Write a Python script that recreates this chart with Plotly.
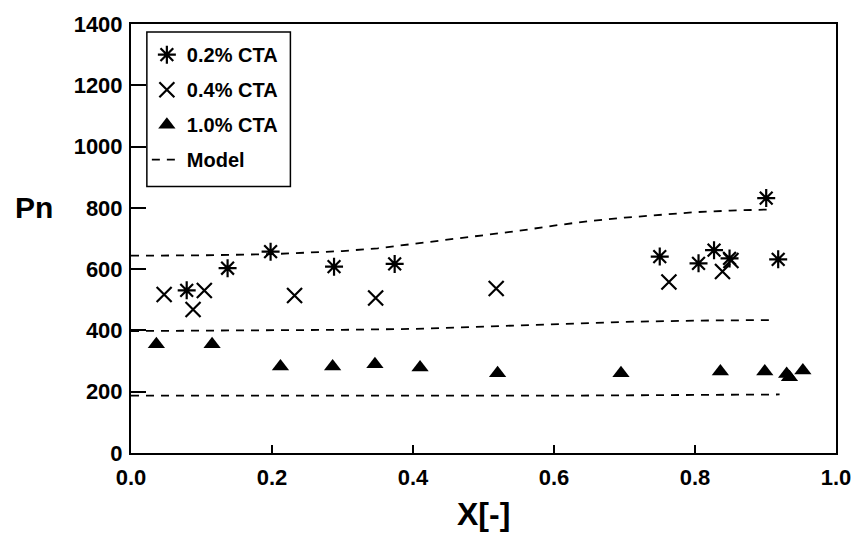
import plotly.graph_objects as go

# Measured data: Pn versus conversion X for three CTA levels
x_02 = [0.079, 0.137, 0.198, 0.288, 0.374, 0.750, 0.805, 0.827, 0.849, 0.901, 0.918]
pn_02 = [531, 603, 657, 608, 617, 641, 619, 662, 635, 832, 632]

x_04 = [0.047, 0.088, 0.104, 0.232, 0.347, 0.518, 0.763, 0.839, 0.851]
pn_04 = [517, 468, 530, 514, 506, 537, 558, 592, 628]

x_10 = [0.036, 0.115, 0.212, 0.286, 0.346, 0.410, 0.520, 0.695, 0.836, 0.899, 0.930, 0.934, 0.953]
pn_10 = [355, 355, 282, 282, 290, 279, 260, 260, 266, 266, 258, 247, 269]

# Model curves
x_model_02 = [0.0, 0.1, 0.2, 0.25, 0.3, 0.35, 0.4, 0.45, 0.5, 0.55, 0.6, 0.65, 0.7, 0.75, 0.8, 0.85, 0.91]
pn_model_02 = [644, 645, 649, 653, 659, 668, 682, 696, 710, 725, 742, 757, 768, 778, 786, 791, 795]
x_model_04 = [0.0, 0.1, 0.2, 0.3, 0.4, 0.5, 0.6, 0.7, 0.8, 0.91]
pn_model_04 = [398, 399, 400, 402, 405, 412, 420, 428, 432, 434]
x_model_10 = [0.0, 0.3, 0.6, 0.92]
pn_model_10 = [187, 186, 187, 191]

FONT = "Liberation Sans, Arial, Helvetica, sans-serif"

fig = go.Figure()

fig.add_trace(go.Scatter(
    x=x_02, y=pn_02, mode="markers", name="0.2% CTA", legendgroup="a",
    marker=dict(symbol="asterisk-open", size=15, color="black",
                line=dict(color="black", width=2.2)),
))
fig.add_trace(go.Scatter(
    x=x_04, y=pn_04, mode="markers", name="0.4% CTA", legendgroup="b",
    marker=dict(symbol="x-thin-open", size=15, color="black",
                line=dict(color="black", width=2.2)),
))
fig.add_trace(go.Scatter(
    x=x_10, y=pn_10, mode="markers", name="1.0% CTA", legendgroup="c",
    marker=dict(symbol="triangle-up", size=15, color="black",
                line=dict(color="black", width=0)),
))

dash_line = dict(color="black", width=1.8, dash="8px,7px")
fig.add_trace(go.Scatter(x=x_model_02, y=pn_model_02, mode="lines", name="Model",
                         legendgroup="d", line=dash_line))
fig.add_trace(go.Scatter(x=x_model_04, y=pn_model_04, mode="lines", name="Model",
                         legendgroup="d", showlegend=False, line=dash_line))
fig.add_trace(go.Scatter(x=x_model_10, y=pn_model_10, mode="lines", name="Model",
                         legendgroup="d", showlegend=False, line=dash_line))

axis_common = dict(
    showline=True, linecolor="black", linewidth=2, mirror=True,
    ticks="inside", tickcolor="black",
    showgrid=False, zeroline=False,
    tickfont=dict(family=FONT, size=22, color="black", weight="bold"),
)

fig.update_layout(
    width=863, height=535,
    margin=dict(l=131, r=20, t=20, b=82),
    paper_bgcolor="white", plot_bgcolor="white",
    showlegend=True,
    legend=dict(
        x=0.0225, y=0.974, xanchor="left", yanchor="top",
        borderwidth=0, bgcolor="rgba(0,0,0,0)",
        font=dict(family=FONT, size=20, color="black", weight="bold"),
        tracegroupgap=6, itemwidth=30,
    ),
    # frame drawn around the legend entries
    shapes=[dict(type="rect", xref="paper", yref="paper",
                 x0=0.0225, x1=0.2261, y0=0.6212, y1=0.9815,
                 line=dict(color="black", width=1.5), fillcolor="white", layer="below")],
    xaxis=dict(range=[0, 1.0], tickvals=[0, 0.2, 0.4, 0.6, 0.8, 1.0], tickformat=".1f",
               ticklen=8, tickwidth=2, ticklabelstandoff=4, **axis_common),
    yaxis=dict(range=[0, 1400], tickvals=list(range(0, 1401, 200)),
               ticklen=15, tickwidth=1.5, ticklabelstandoff=2, **axis_common),
    annotations=[
        dict(text="Pn", x=-0.1376, y=0.573, xref="paper", yref="paper",
             xanchor="center", yanchor="middle", showarrow=False,
             font=dict(family=FONT, size=30, color="black", weight="bold")),
        dict(text="X[-]", x=0.5, y=-0.143, xref="paper", yref="paper",
             xanchor="center", yanchor="middle", showarrow=False,
             font=dict(family=FONT, size=32, color="black", weight="bold")),
    ],
)

fig.write_html("out.html")
